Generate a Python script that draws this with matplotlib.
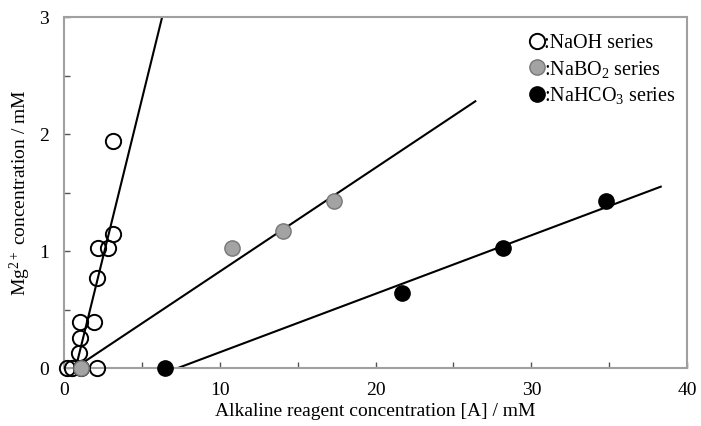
import matplotlib
matplotlib.use("Agg")
import matplotlib.pyplot as plt
from matplotlib.ticker import MultipleLocator

plt.rcParams['font.family'] = ['Liberation Serif', 'DejaVu Serif']
plt.rcParams['mathtext.fontset'] = 'custom'
plt.rcParams['mathtext.rm'] = 'Liberation Serif'
plt.rcParams['mathtext.it'] = 'Liberation Serif:italic'

# NaOH series (open circles)
naoh_x = [0.17, 0.49, 1.09, 2.1, 0.96, 1.03, 1.03, 1.93, 2.1, 2.2, 2.84, 3.15, 3.13]
naoh_y = [0.0, 0.0, 0.0, 0.0, 0.13, 0.26, 0.39, 0.39, 0.77, 1.03, 1.03, 1.15, 1.94]
naoh_fit_x = [0.75, 6.3]
naoh_fit_y = [0.0, 3.0]

# NaBO2 series (grey)
nabo2_x = [1.09, 10.76, 14.08, 17.33]
nabo2_y = [0.0, 1.03, 1.17, 1.43]
nabo2_fit_x = [0.7, 26.4]
nabo2_fit_y = [0.0, 2.28]

# NaHCO3 series (black)
nahco3_x = [6.46, 21.7, 28.2, 34.8]
nahco3_y = [0.0, 0.64, 1.03, 1.43]
nahco3_fit_x = [7.3, 38.3]
nahco3_fit_y = [0.0, 1.55]

SPINE = '#a0a0a0'

fig = plt.figure(figsize=(7.01, 4.26), dpi=100)
ax = fig.add_axes([0.0913, 0.136, 0.889, 0.824])

# fitted lines
ax.plot(naoh_fit_x, naoh_fit_y, color='black', lw=1.5, zorder=2)
ax.plot(nabo2_fit_x, nabo2_fit_y, color='black', lw=1.5, zorder=2)
ax.plot(nahco3_fit_x, nahco3_fit_y, color='black', lw=1.5, zorder=2)

# data points
ms = 11
ax.plot(naoh_x, naoh_y, 'o', ms=ms, mfc='none', mec='black', mew=1.4,
        label=':NaOH series', zorder=3, clip_on=False)
ax.plot(nabo2_x, nabo2_y, 'o', ms=ms, mfc='#a3a3a3', mec='#777777', mew=1.0,
        label=':NaBO$_2$ series', zorder=3, clip_on=False)
ax.plot(nahco3_x, nahco3_y, 'o', ms=ms, mfc='black', mec='black', mew=1.0,
        label=':NaHCO$_3$ series', zorder=3, clip_on=False)

ax.set_xlim(0, 40)
ax.set_ylim(0, 3)
ax.xaxis.set_major_locator(MultipleLocator(10))
ax.xaxis.set_minor_locator(MultipleLocator(5))
ax.yaxis.set_major_locator(MultipleLocator(1))
ax.yaxis.set_minor_locator(MultipleLocator(0.5))

for s in ax.spines.values():
    s.set_color(SPINE)
    s.set_linewidth(1.5)

ax.tick_params(which='both', direction='in', color='#555555', labelsize=14, width=1.0)
ax.tick_params(axis='y', which='major', length=4, pad=11)
ax.tick_params(axis='x', which='major', length=4, pad=10)
ax.tick_params(which='minor', length=4)

ax.set_xlabel('Alkaline reagent concentration [A] / mM', fontsize=14, labelpad=3)
ax.set_ylabel('Mg$^{2+}$ concentration / mM', fontsize=14, labelpad=4)

leg = ax.legend(loc='upper right', bbox_to_anchor=(1.0, 0.985), frameon=False,
                fontsize=14.5, handlelength=0.6, handletextpad=0.05,
                labelspacing=0.25, borderaxespad=0.2)

fig.savefig('out.png', dpi=100)
